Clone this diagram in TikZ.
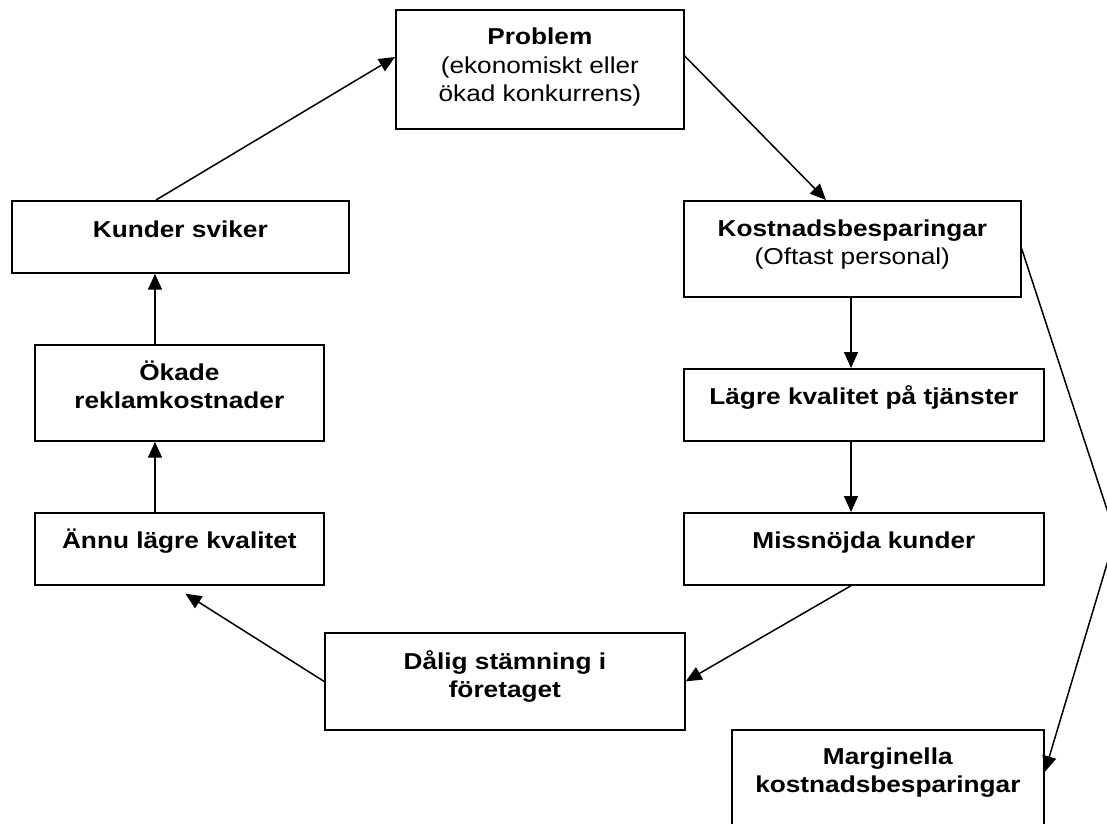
\documentclass[tikz,border=0pt]{standalone}
\usepackage{fontspec}
\setmainfont{Liberation Sans}[FakeStretch=1.14]
\usetikzlibrary{arrows.meta, calc}

\begin{document}
\begin{tikzpicture}[
    x=1pt, y=-1pt,
    blk/.style={draw, line width=1.7pt, inner sep=0pt, align=center,
        anchor=north west, font=\fontsize{23}{28.5}\selectfont},
    pil/.style={line width=1.5pt, -{Triangle[length=16pt, width=14pt]}}
    ]
    \path[use as bounding box, fill=white] (0,0) rectangle (1107,823);

    \node[blk, minimum width=288pt, text height=92pt, text depth=27pt] (prob) at (395,9)
        {\textbf{Problem}\\(ekonomiskt eller\\ökad konkurrens)};
    \node[blk, minimum width=337pt, text height=37pt, text depth=35pt] (kund) at (11,200)
        {\textbf{Kunder sviker}};
    \node[blk, minimum width=289pt, text height=64pt, text depth=32pt] (okad) at (34,344)
        {\textbf{Ökade}\\\textbf{reklamkostnader}};
    \node[blk, minimum width=289pt, text height=36pt, text depth=36pt] (annu) at (34,512)
        {\textbf{Ännu lägre kvalitet}};
    \node[blk, minimum width=337pt, text height=64pt, text depth=32pt] (kost) at (683,200)
        {\textbf{Kostnadsbesparingar}\\(Oftast personal)};
    \node[blk, minimum width=360pt, text height=36pt, text depth=36pt] (lagre) at (683,368)
        {\textbf{Lägre kvalitet på tjänster}};
    \node[blk, minimum width=360pt, text height=36pt, text depth=36pt] (miss) at (683,512)
        {\textbf{Missnöjda kunder}};
    \node[blk, minimum width=360pt, text height=65pt, text depth=32pt] (dalig) at (324,632)
        {\textbf{Dålig stämning i}\\\textbf{företaget}};
    \node[blk, minimum width=312pt, text height=63pt, text depth=57pt] (marg) at (731,729)
        {\textbf{Marginella}\\\textbf{kostnadsbesparingar}};

    \coordinate (bend) at (1115.5,535.5);

    % the loop
    \draw[pil] ([xshift=145pt]kund.north west) -- ([yshift=-48pt]prob.north west);
    \draw[pil] ([yshift=-47pt]prob.north east) -- ([xshift=143pt]kost.north west);
    \draw[pil] ([xshift=168pt]kost.south west) -- ([xshift=168pt]lagre.north west);
    \draw[pil] ([xshift=168pt]lagre.south west) -- ([xshift=168pt]miss.north west);
    \draw[pil] ([xshift=168pt]miss.south west) -- (dalig.east);
    \draw[pil] (dalig.west) -- ([shift={(6pt,-8pt)}]annu.south);
    \draw[pil] ([xshift=121pt]annu.north west) -- ([xshift=121pt]okad.south west);
    \draw[pil] ([xshift=121pt]okad.north west) -- ([xshift=144pt]kund.south west);
    % side branch
    \draw[pil] (kost.east) -- (bend) -- ([yshift=-43pt]marg.north east);
\end{tikzpicture}
\end{document}
